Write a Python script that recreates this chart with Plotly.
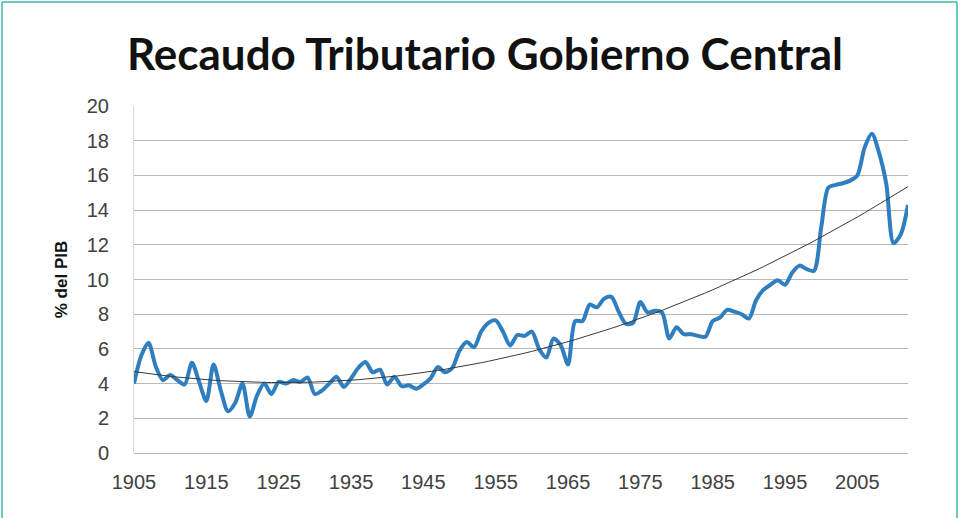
import numpy as np
import plotly.graph_objects as go

years = list(range(1905, 2013))
recaudo = [
    4.0, 5.6, 6.35, 5.0, 4.2, 4.5, 4.2, 3.95, 5.2, 4.1,   # 1905-1914
    3.0, 5.1, 3.6, 2.4, 2.9, 4.0, 2.1, 3.3, 4.0, 3.4,     # 1915-1924
    4.1, 4.0, 4.2, 4.1, 4.35, 3.4, 3.6, 4.0, 4.4, 3.8,    # 1925-1934
    4.3, 4.9, 5.25, 4.65, 4.8, 3.95, 4.4, 3.85, 3.9, 3.7, # 1935-1944
    3.95, 4.3, 4.95, 4.65, 4.9, 5.9, 6.4, 6.1, 7.0, 7.5,  # 1945-1954
    7.65, 7.0, 6.2, 6.8, 6.75, 7.0, 6.0, 5.5, 6.6, 6.2,   # 1955-1964
    5.1, 7.6, 7.6, 8.55, 8.4, 8.9, 9.0, 8.15, 7.45, 7.5,  # 1965-1974
    8.7, 8.1, 8.2, 8.1, 6.6, 7.25, 6.85, 6.85, 6.75, 6.7, # 1975-1984
    7.6, 7.8, 8.25, 8.15, 8.0, 7.75, 8.8, 9.4, 9.7, 9.95, # 1985-1994
    9.7, 10.4, 10.8, 10.6, 10.5, 13.0, 15.3, 15.45, 15.55, 15.7,  # 1995-2004
    16.0, 17.6, 18.4, 17.3, 15.5, 12.1, 12.6, 14.3        # 2005-2012
]
x_ticks = list(range(1905, 2006, 10))
y_ticks = list(range(0, 21, 2))

title_text = "Recaudo Tributario Gobierno Central"
y_title = "% del PIB"

# Polynomial trend (as Excel's trendline), fitted to the series
coef = np.polyfit(np.array(years) - 1905, np.array(recaudo), 2)
trend = np.polyval(coef, np.array(years) - 1905)

fig = go.Figure()
fig.add_trace(go.Scatter(
    x=years, y=recaudo, mode="lines",
    line=dict(color="#2E7EC0", width=4, shape="spline", smoothing=0.8),
    showlegend=False, hoverinfo="x+y"))
fig.add_trace(go.Scatter(
    x=years, y=trend, mode="lines",
    line=dict(color="#3a3a3a", width=1),
    showlegend=False, hoverinfo="skip"))

W, H = 961, 518
ml, mr, mt, mb = 134, 53, 106, 65
pw, ph = W - ml - mr, H - mt - mb

def px_x(p):
    return (p - ml) / pw

def px_y(p):
    return 1 - (p - mt) / ph

border = "#3DB8AD"
shapes = [
    dict(type="line", xref="paper", yref="paper", x0=px_x(2), x1=px_x(957), y0=px_y(2), y1=px_y(2),
         line=dict(color=border, width=1.5)),
    dict(type="line", xref="paper", yref="paper", x0=px_x(2), x1=px_x(2), y0=px_y(2), y1=px_y(518),
         line=dict(color=border, width=1.5)),
    dict(type="line", xref="paper", yref="paper", x0=px_x(957), x1=px_x(957), y0=px_y(2), y1=px_y(518),
         line=dict(color=border, width=1.5)),
]

fig.update_layout(
    width=W, height=H,
    margin=dict(l=ml, r=mr, t=mt, b=mb),
    paper_bgcolor="white", plot_bgcolor="white",
    title=dict(text="<b>" + title_text + "</b>", x=485 / W, xanchor="center",
               y=1 - 55 / H, yanchor="middle",
               font=dict(family="Lato", size=44, color="#111111")),
    shapes=shapes,
    xaxis=dict(range=[1905, 2012], tickvals=x_ticks, ticktext=[str(v) for v in x_ticks],
               showgrid=False, zeroline=False, showline=False, ticks="",
               ticklabelstandoff=15,
               tickfont=dict(family="Liberation Sans", size=20, color="#404040")),
    yaxis=dict(range=[0, 20], tickvals=y_ticks, showgrid=True, gridcolor="#B8B8B8", gridwidth=1,
               zeroline=True, zerolinecolor="#B8B8B8", zerolinewidth=1,
               showline=True, linecolor="#D9D9D9", linewidth=1, ticks="",
               ticklabelstandoff=20,
               tickfont=dict(family="Liberation Sans", size=20, color="#404040")),
)
fig.update_yaxes(title=dict(text="<b>" + y_title + "</b>", standoff=14,
                            font=dict(family="Liberation Sans", size=17, color="#111111")))

fig.write_html("out.html", config={"displayModeBar": False},
               post_script="document.body.style.margin='0';")
